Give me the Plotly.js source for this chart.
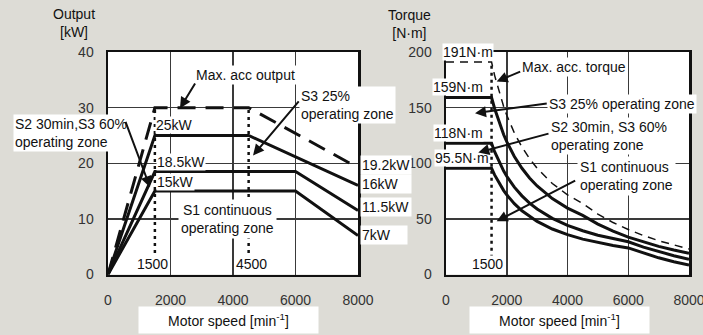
<!DOCTYPE html>
<html>
<head>
<meta charset="utf-8">
<script src="https://cdn.plot.ly/plotly-3.0.1.min.js"></script>
<style>
  html, body { margin: 0; padding: 0; background: #dddcd6; overflow: hidden; }
  #chart { width: 703px; height: 335px; }
</style>
</head>
<body>
<div id="chart"></div>
<script>
// Spindle motor characteristics: output [kW] and torque [N·m] vs. motor speed [min^-1]
const speedTicks = [0, 2000, 4000, 6000, 8000];
const outputTicks = [0, 10, 20, 30, 40];
const torqueTicks = [0, 50, 100, 150, 200];

// Output curves (break points)
const outSpeedS1 = [0, 1500, 6000, 8000];
const outS1 = [0, 15, 15, 7];
const outSpeedS2 = [0, 1500, 6000, 8000];
const outS2 = [0, 18.5, 18.5, 11.5];
const outSpeedS3 = [0, 1500, 4500, 8000];
const outS3 = [0, 25, 25, 16];
const outSpeedMax = [0, 1500, 4500, 8000];
const outMax = [0, 30, 30, 19.2];

// Base / corner speeds marked with dotted lines
const baseSpeed = 1500;
const cornerSpeed = 4500;

// Torque curves
const torqueSpeed = [0, 1500, 1600, 1750, 1900, 2000, 2250, 2500, 2750, 3000, 3500, 4000, 4500, 5000, 5500, 6000, 6500, 7000, 7500, 8000];
const torqueMax = [191, 191, 179.0, 163.7, 150.8, 143.2, 127.3, 114.6, 104.2, 95.5, 81.8, 71.6, 63.7, 54.3, 46.7, 40.4, 35.0, 30.4, 26.4, 22.9];
const torqueS3 = [159, 159, 149.2, 136.4, 125.6, 119.4, 106.1, 95.5, 86.8, 79.6, 68.2, 59.7, 53.1, 45.3, 38.9, 33.6, 29.2, 25.3, 22.0, 19.1];
const torqueS2 = [118, 118, 110.4, 100.9, 93.0, 88.3, 78.5, 70.7, 64.2, 58.9, 50.5, 44.2, 39.3, 35.3, 32.1, 29.4, 24.6, 20.5, 16.9, 13.7];
const torqueS1 = [95.5, 95.5, 89.5, 81.8, 75.4, 71.6, 63.7, 57.3, 52.1, 47.7, 40.9, 35.8, 31.8, 28.6, 26.0, 23.9, 19.1, 15.0, 11.5, 8.4];

const W = 703, H = 335;
const FONT = 'Liberation Sans, Arial, sans-serif';
const INK = '#111';
const px = v => v / W;
const py = v => 1 - v / H;

const solid = { color: INK, width: 3 };

const traces = [
  // output chart
  { x: outSpeedS1, y: outS1, xaxis: 'x', yaxis: 'y', mode: 'lines', line: solid },
  { x: outSpeedS2, y: outS2, xaxis: 'x', yaxis: 'y', mode: 'lines', line: solid },
  { x: outSpeedS3, y: outS3, xaxis: 'x', yaxis: 'y', mode: 'lines', line: solid },
  { x: outSpeedMax, y: outMax, xaxis: 'x', yaxis: 'y', mode: 'lines',
    line: { color: INK, width: 3, dash: '18px,10px' } },
  { x: [baseSpeed, baseSpeed], y: [2.6, outMax[1]], xaxis: 'x', yaxis: 'y', mode: 'lines',
    line: { color: INK, width: 2.5, dash: '3px,4px' } },
  { x: [cornerSpeed, cornerSpeed], y: [2.6, outMax[2]], xaxis: 'x', yaxis: 'y', mode: 'lines',
    line: { color: INK, width: 2.5, dash: '3px,4px' } },
  // torque chart
  { x: torqueSpeed, y: torqueS1, xaxis: 'x2', yaxis: 'y2', mode: 'lines', line: solid },
  { x: torqueSpeed, y: torqueS2, xaxis: 'x2', yaxis: 'y2', mode: 'lines', line: solid },
  { x: torqueSpeed, y: torqueS3, xaxis: 'x2', yaxis: 'y2', mode: 'lines', line: solid },
  { x: torqueSpeed, y: torqueMax, xaxis: 'x2', yaxis: 'y2', mode: 'lines',
    line: { color: INK, width: 1.5, dash: '8px,6px' } },
  { x: [baseSpeed, baseSpeed], y: [15, torqueMax[1]], xaxis: 'x2', yaxis: 'y2', mode: 'lines',
    line: { color: INK, width: 2.5, dash: '3px,4px' } }
];

const axisBase = {
  showline: true, mirror: true, linecolor: INK, linewidth: 2.5,
  showgrid: true, gridcolor: '#3a3a3a', gridwidth: 1.5, zeroline: false,
  ticks: 'outside', tickcolor: 'rgba(0,0,0,0)', ticklabeloverflow: 'allow',
  tickfont: { family: FONT, size: 14, color: '#333' }, fixedrange: true
};
const xAxis = (domain, anchor) => Object.assign({}, axisBase, {
  domain, anchor, range: [0, 8000], tickmode: 'array', tickvals: speedTicks, ticklen: 11
});
const yAxis = (domain, range, vals, anchor) => Object.assign({}, axisBase, {
  domain, anchor, range, tickmode: 'array', tickvals: vals, ticklen: 9
});

// text label helper
function lab(text, xref, yref, x, y, extra) {
  return Object.assign({
    text, xref, yref, x, y, showarrow: false,
    xanchor: 'left', yanchor: 'middle', align: 'left',
    bgcolor: 'white', borderpad: 1,
    font: { family: FONT, size: 14, color: INK }
  }, extra || {});
}
// arrow helper (head at x,y ; tail at ax,ay in data units)
function arrow(xref, yref, x, y, ax, ay) {
  return {
    text: '', xref, yref, x, y, ax, ay, axref: xref, ayref: yref,
    showarrow: true, arrowhead: 2, arrowsize: 1.1, arrowwidth: 2, arrowcolor: INK
  };
}

const annotations = [
  // output chart labels
  lab('Max. acc output', 'x', 'y', 2750, 35.9),
  lab('S3 25%<br>operating zone', 'x', 'y', 6112, 30.5),
  lab('25kW', 'x', 'y', 1504, 26.8, { borderpad: 0 }),
  lab('18.5kW', 'x', 'y', 1536, 20.2, { borderpad: 0 }),
  lab('15kW', 'x', 'y', 1536, 16.6, { borderpad: 0 }),
  lab('S1 continuous<br>operating zone', 'x', 'y', 3808, 9.9, { xanchor: 'center', align: 'center', borderpad: 2 }),
  lab('1500', 'x', 'y', 1408, 0, { xanchor: 'center', yanchor: 'bottom', yshift: 2, borderpad: 0 }),
  lab('4500', 'x', 'y', 4576, 0, { xanchor: 'center', yanchor: 'bottom', yshift: 2, borderpad: 0 }),
  lab('S2 30min,S3 60%<br>operating zone', 'paper', 'paper', px(13), py(133)),
  lab('19.2kW', 'paper', 'paper', px(360), py(165), { width: 48 }),
  lab('16kW', 'paper', 'paper', px(360), py(184), { width: 48 }),
  lab('11.5kW', 'paper', 'paper', px(360), py(207), { width: 48 }),
  lab('7kW', 'paper', 'paper', px(360), py(235), { width: 44 }),
  arrow('x', 'y', 2304, 29.9, 2816, 34.6),
  arrow('x', 'y', 4640, 21.4, 6144, 31.4),
  arrow('x', 'y', 1344, 15.7, 544, 27.7),

  // torque chart labels (sitting just above their flat lines)
  lab('191N·m', 'paper', 'paper', px(442), py(52), { borderpad: 0 }),
  lab('159N·m', 'paper', 'paper', px(432), py(87), { borderpad: 0 }),
  lab('118N·m', 'paper', 'paper', px(433), py(133), { borderpad: 0 }),
  lab('95.5N·m', 'paper', 'paper', px(434), py(158), { borderpad: 0 }),
  lab('1500', 'x2', 'y2', 1350, 0, { xanchor: 'center', yanchor: 'bottom', yshift: 2, borderpad: 0 }),
  lab('Max. acc. torque', 'x2', 'y2', 2436, 186.5),
  lab('S3 25% operating zone', 'x2', 'y2', 3325, 153.4),
  lab('S2 30min, S3 60%<br>operating zone', 'x2', 'y2', 3391, 124.7),
  lab('S1 continuous<br>operating zone', 'x2', 'y2', 4312, 88.8, { borderpad: 2 }),
  arrow('x2', 'y2', 1668, 173.4, 2492, 183),
  arrow('x2', 'y2', 955, 145, 3366, 154),
  arrow('x2', 'y2', 1064, 109.7, 3424, 127),
  arrow('x2', 'y2', 1668, 47.8, 4302, 85),

  // axis titles
  lab('Output<br>[kW]', 'paper', 'paper', px(74), py(23), { xanchor: 'center', align: 'center', bgcolor: 'rgba(0,0,0,0)' }),
  lab('Torque<br>[N·m]', 'paper', 'paper', px(409), py(24), { xanchor: 'center', align: 'center', bgcolor: 'rgba(0,0,0,0)' }),
  lab('Motor speed [min<sup>-1</sup>]', 'paper', 'paper', px(228.5), py(320),
      { xanchor: 'center', align: 'center', width: 175, height: 22, borderpad: 2 }),
  lab('Motor speed [min<sup>-1</sup>]', 'paper', 'paper', px(559.5), py(320),
      { xanchor: 'center', align: 'center', width: 175, height: 22, borderpad: 2 })
];

const yDom = [py(274.5), py(52)];
const layout = {
  width: W, height: H, autosize: false,
  margin: { l: 0, r: 0, t: 0, b: 0, autoexpand: false },
  paper_bgcolor: '#dddcd6', plot_bgcolor: 'white',
  showlegend: false,
  font: { family: FONT, size: 14, color: INK },
  xaxis: xAxis([px(108), px(358)], 'y'),
  yaxis: yAxis(yDom, [0, 40], outputTicks, 'x'),
  xaxis2: xAxis([px(446), px(689)], 'y2'),
  yaxis2: yAxis(yDom, [0, 200], torqueTicks, 'x2'),
  annotations
};

Plotly.newPlot('chart', traces, layout, { staticPlot: true, displayModeBar: false });
</script>
</body>
</html>
